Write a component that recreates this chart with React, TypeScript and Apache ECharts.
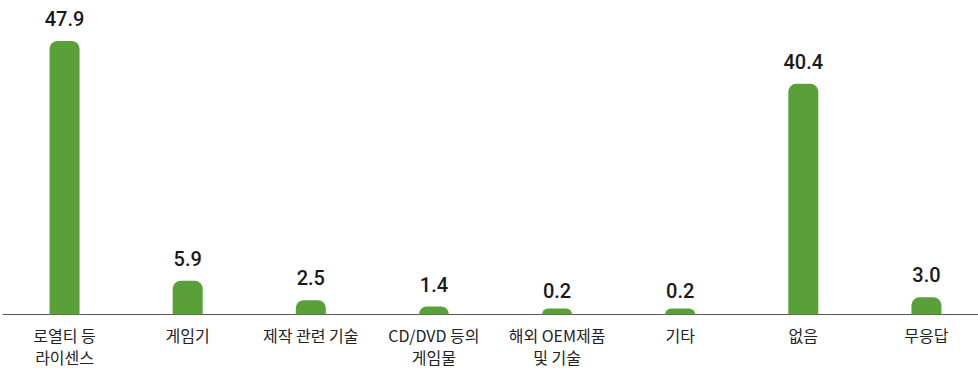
import React, { useEffect, useRef } from "react";
import * as echarts from "echarts";

const categories = [
  "로열티 등\n라이센스",
  "게임기",
  "제작 관련 기술",
  "CD/DVD 등의\n게임물",
  "해외 OEM제품\n및 기술",
  "기타",
  "없음",
  "무응답",
];

const values = [47.9, 5.9, 2.5, 1.4, 0.2, 0.2, 40.4, 3.0];

export default function App() {
  const ref = useRef<HTMLDivElement>(null);

  useEffect(() => {
    if (!ref.current) return;
    const chart = echarts.init(ref.current, null, { renderer: "svg" });
    chart.setOption({
      animation: false,
      grid: { left: 3, width: 985, top: 29, bottom: 53.5, containLabel: false },
      xAxis: {
        type: "category",
        data: categories,
        axisLine: { show: true, lineStyle: { color: "#555", width: 1.2 } },
        axisTick: { show: false },
        axisLabel: {
          interval: 0,
          margin: 9,
          color: "#222",
          fontSize: 16,
          lineHeight: 22,
          fontFamily: "'Noto Sans CJK KR', sans-serif",
        },
      },
      yAxis: {
        type: "value",
        min: 0,
        max: 50,
        show: false,
        splitLine: { show: false },
      },
      series: [
        {
          // visible bars; tiny values keep a small minimum height
          type: "bar",
          data: values,
          barWidth: 30,
          barMinHeight: 6,
          itemStyle: { color: "#5aa038", borderRadius: [8, 8, 0, 0] },
          z: 2,
        },
        {
          // value labels placed at the true value height
          type: "bar",
          data: values,
          barWidth: 30,
          barGap: "-100%",
          itemStyle: { color: "transparent" },
          silent: true,
          z: 3,
          label: {
            show: true,
            position: "top",
            distance: 12,
            color: "#1a1a1a",
            fontSize: 20,
            fontWeight: 500,
            fontFamily: "Roboto, sans-serif",
            formatter: (p: any) => p.value.toFixed(1),
          },
        },
      ],
    });
    return () => chart.dispose();
  }, []);

  return (
    <div
      style={{
        position: "absolute",
        left: 0,
        top: 0,
        width: 978,
        height: 368,
        overflow: "hidden",
      }}
    >
      <div ref={ref} style={{ width: 992, height: 368 }} />
    </div>
  );
}
